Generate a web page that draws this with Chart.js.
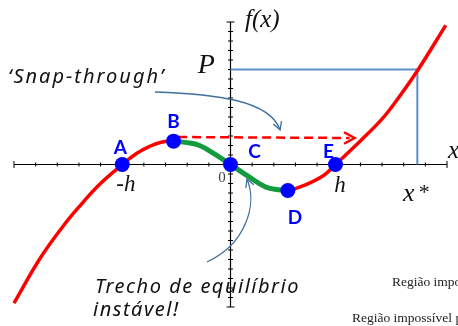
<!DOCTYPE html>
<html lang="pt">
<head>
<meta charset="UTF-8">
<title>Snap-through</title>
<script src="https://cdn.jsdelivr.net/npm/chart.js@4/dist/chart.umd.min.js"></script>
<style>
  html, body { margin: 0; padding: 0; background: #fff; overflow: hidden; }
  .box { position: relative; width: 458px; height: 326px; }
</style>
</head>
<body>
<div class="box"><canvas id="grafico"></canvas></div>
<script>
// ---------------------------------------------------------------------------
// Dados: curva f(x) e pontos de equilíbrio
// ---------------------------------------------------------------------------

const curvaX = [-10, -8.8, -7.7, -7.05, -6.1, -5, -4.36, -3.74, -3.2, -2.63, -2, -1.43, -0.8, 0,
                0.88, 1.65, 2.2, 2.65, 3.4, 4.3, 4.85, 6.02, 6.94, 7.56, 8.64, 9.94];
const curvaY = [-14.6, -9.9, -6.4, -4.6, -2.2, 0, 1.13, 1.9, 2.35, 2.46, 2.3, 2.0, 1.2, 0,
                -1.34, -2.39, -2.65, -2.74, -2.2, -1.15, 0, 2.53, 4.64, 6.4, 9.9, 14.65];

// trecho instável entre B e D
const instavelIni = -2.63;
const instavelFim = 2.65;

const pontosNome = ['A', 'B', 'C', 'D', 'E'];
const pontosX    = [-5, -2.63, 0, 2.65, 4.85];
const pontosY    = [0, 2.46, 0, -2.74, 0];

// carga P e deslocamento x*
const cargaP   = 10;
const xEstrela = 8.63;

// salto dinâmico (seta tracejada)
const saltoX = [-2.42, 5.5];
const saltoY = [2.89, 2.79];

// marcas dos eixos
const ticksX = [-10, -9, -8, -7, -6, -5, -4, -3, -2, -1, 0, 1, 2, 3, 4, 5, 6, 7, 8, 9, 10];
const ticksY = [-15, -14, -13, -12, -11, -10, -9, -8, -7, -6, -5, -4, -3, -2, -1, 0,
                1, 2, 3, 4, 5, 6, 7, 8, 9, 10, 11, 12, 13, 14, 15];

const pts = (xs, ys) => xs.map((x, i) => ({ x, y: ys[i] }));
const curva    = pts(curvaX, curvaY);
const instavel = curva.filter(p => p.x >= instavelIni && p.x <= instavelFim);

const SERIF = '"Liberation Serif", "DejaVu Serif", serif';
const MAO   = '"Noto Sans", "Open Sans", sans-serif';
const AZUL_SETA = '#3f6f9f';

// ---------------------------------------------------------------------------
// Plugin: eixos cruzados, setas e textos
// ---------------------------------------------------------------------------

function seta(ctx, tipX, tipY, dx, dy, tam) {
  const a = Math.atan2(dy, dx);
  ctx.beginPath();
  ctx.moveTo(tipX - tam * Math.cos(a - 0.5), tipY - tam * Math.sin(a - 0.5));
  ctx.lineTo(tipX, tipY);
  ctx.lineTo(tipX - tam * Math.cos(a + 0.5), tipY - tam * Math.sin(a + 0.5));
  ctx.stroke();
}

const desenho = {
  id: 'desenho',
  beforeDatasetsDraw(chart) {
    const ctx = chart.ctx;
    const sx = chart.scales.x, sy = chart.scales.y;
    const X = v => sx.getPixelForValue(v), Y = v => sy.getPixelForValue(v);
    const x0 = X(0), y0 = Y(0);

    ctx.save();
    ctx.strokeStyle = '#000';
    ctx.lineWidth = 1.2;
    ctx.beginPath();
    ctx.moveTo(X(ticksX[0]), y0); ctx.lineTo(X(ticksX[ticksX.length - 1]), y0);
    ctx.moveTo(x0, Y(ticksY[ticksY.length - 1])); ctx.lineTo(x0, Y(ticksY[0]));
    ctx.stroke();

    ctx.lineWidth = 1;
    ctx.beginPath();
    ticksX.forEach((t, i) => {
      const h = (i === 0 || i === ticksX.length - 1) ? 3.5 : 2;
      ctx.moveTo(X(t), y0 - h); ctx.lineTo(X(t), y0 + h);
    });
    ticksY.forEach((t, i) => {
      const w = (i === 0 || i === ticksY.length - 1) ? 4 : 2.5;
      ctx.moveTo(x0 - w, Y(t)); ctx.lineTo(x0 + w, Y(t));
    });
    ctx.stroke();

    // seta do 'Snap-through'
    ctx.strokeStyle = AZUL_SETA;
    ctx.lineWidth = 1.3;
    ctx.beginPath();
    ctx.moveTo(X(-3.49), Y(7.63));
    ctx.bezierCurveTo(X(-0.72), Y(7.42), X(1.82), Y(6.79), X(2.29), Y(3.63));
    ctx.stroke();
    seta(ctx, X(2.29), Y(3.63), X(2.29) - X(1.95), Y(3.63) - Y(5.8), 9);

    // seta do trecho instável
    ctx.beginPath();
    ctx.moveTo(X(-1.09), Y(-10.26));
    ctx.bezierCurveTo(X(0.67), Y(-8.47), X(1.27), Y(-4.26), X(0.76), Y(-1.53));
    ctx.stroke();
    seta(ctx, X(0.76), Y(-1.53), X(0.76) - X(1.1), Y(-1.53) - Y(-3.5), 9);
    ctx.restore();
  },
  afterDatasetsDraw(chart) {
    const ctx = chart.ctx;
    const sx = chart.scales.x, sy = chart.scales.y;
    const X = v => sx.getPixelForValue(v), Y = v => sy.getPixelForValue(v);

    ctx.save();
    // ponta da seta tracejada
    ctx.strokeStyle = '#ff0000';
    ctx.lineWidth = 2.5;
    const n = saltoX.length - 1;
    seta(ctx, X(saltoX[n]) + 5, Y(saltoY[n]), 1, 0, 12);

    // rótulos dos pontos
    ctx.fillStyle = '#0000ff';
    ctx.font = 'bold 19px Lato, "Open Sans", sans-serif';
    ctx.textAlign = 'center';
    ctx.textBaseline = 'alphabetic';
    const desloc = { A: [-2, -11], B: [0, -13], C: [24, -7], D: [7, 33], E: [-7, -7] };
    pontosNome.forEach((nome, i) => {
      const [dx, dy] = desloc[nome];
      ctx.fillText(nome, X(pontosX[i]) + dx, Y(pontosY[i]) + dy);
    });

    // textos matemáticos
    ctx.fillStyle = '#111';
    ctx.textAlign = 'left';
    ctx.font = `italic 25px ${SERIF}`;
    ctx.fillText('f(x)', X(0.67), Y(14.47));
    ctx.fillText('x', X(10.05), Y(0.68));
    ctx.font = `italic 28px ${SERIF}`;
    ctx.textAlign = 'right';
    ctx.fillText('P', X(-0.72), Y(9.63));
    ctx.textAlign = 'center';
    ctx.font = `italic 23px ${SERIF}`;
    ctx.fillText('-h', X(-4.83), Y(-2.79));
    ctx.fillText('h', X(5.06), Y(-2.89));
    ctx.textAlign = 'left';
    ctx.font = `italic 26px ${SERIF}`;
    ctx.fillText('x', X(7.97), Y(-3.84));
    ctx.font = `22px ${SERIF}`;
    ctx.fillText('*', X(8.7), Y(-3.6));
    ctx.fillStyle = '#444';
    ctx.textAlign = 'center';
    ctx.font = `15px ${SERIF}`;
    ctx.fillText('0', X(-0.39), Y(-1.84));

    // anotações manuscritas
    ctx.fillStyle = '#111';
    ctx.textAlign = 'left';
    ctx.font = `italic 20px ${MAO}`;
    ctx.letterSpacing = '2px';
    ctx.fillText('\u2018Snap-through\u2019', X(-10.28), Y(8.58));
    ctx.letterSpacing = '1.5px';
    ctx.fillText('Trecho de equilíbrio', X(-6.26), Y(-13.53));
    ctx.fillText('instável!', X(-6.35), Y(-15.95));
    ctx.letterSpacing = '0px';

    ctx.fillStyle = '#222';
    ctx.font = `13.5px ${SERIF}`;
    ctx.fillText('Região impossível', X(7.46), Y(-12.79));
    ctx.fillText('Região impossível para', X(5.61), Y(-16.58));
    ctx.restore();
  }
};

// ---------------------------------------------------------------------------
// Gráfico
// ---------------------------------------------------------------------------

new Chart(document.getElementById('grafico'), {
  type: 'scatter',
  plugins: [desenho],
  data: {
    datasets: [
      {
        data: pts(pontosX, pontosY), order: 0, showLine: false,
        pointRadius: 7.5, pointBackgroundColor: '#0000ff', pointBorderWidth: 0,
      },
      {
        data: pts(saltoX, saltoY), order: 1, showLine: true,
        borderColor: '#ff0000', borderWidth: 2.5, borderDash: [9, 5], pointRadius: 0,
      },
      {
        data: instavel, order: 2, showLine: true, tension: 0.4,
        borderColor: '#129c3e', borderWidth: 5, pointRadius: 0,
      },
      {
        data: curva, order: 3, showLine: true, tension: 0.4,
        borderColor: '#ff0000', borderWidth: 3.5, pointRadius: 0,
      },
      {
        data: [{ x: 0, y: cargaP }, { x: xEstrela, y: cargaP }, { x: xEstrela, y: 0 }],
        order: 4, showLine: true,
        borderColor: '#5b8dc9', borderWidth: 2, pointRadius: 0,
      },
    ]
  },
  options: {
    responsive: true,
    maintainAspectRatio: false,
    animation: false,
    events: [],
    clip: false,
    layout: { padding: { left: 14, right: 11, top: 22, bottom: 19 } },
    plugins: { legend: { display: false }, tooltip: { enabled: false } },
    scales: {
      x: { type: 'linear', min: -10, max: 10, display: false },
      y: { type: 'linear', min: -15, max: 15, display: false },
    }
  }
});
</script>
</body>
</html>
